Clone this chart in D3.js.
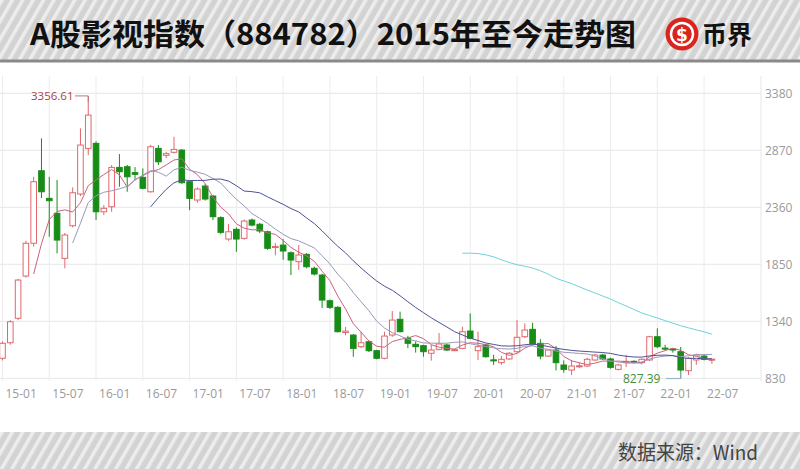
<!DOCTYPE html>
<html><head><meta charset="utf-8">
<script src="https://cdn.jsdelivr.net/npm/d3@7"></script>
<style>
body{margin:0;background:#fff;}
svg{display:block;}
</style></head><body>
<svg id="c" width="800" height="469"></svg>
<script>
// ---------- data (monthly, Jan 2015 - Aug 2022) ----------
const months = ["15-01","15-02","15-03","15-04","15-05","15-06","15-07","15-08","15-09","15-10","15-11","15-12",
"16-01","16-02","16-03","16-04","16-05","16-06","16-07","16-08","16-09","16-10","16-11","16-12",
"17-01","17-02","17-03","17-04","17-05","17-06","17-07","17-08","17-09","17-10","17-11","17-12",
"18-01","18-02","18-03","18-04","18-05","18-06","18-07","18-08","18-09","18-10","18-11","18-12",
"19-01","19-02","19-03","19-04","19-05","19-06","19-07","19-08","19-09","19-10","19-11","19-12",
"20-01","20-02","20-03","20-04","20-05","20-06","20-07","20-08","20-09","20-10","20-11","20-12",
"21-01","21-02","21-03","21-04","21-05","21-06","21-07","21-08","21-09","21-10","21-11","21-12",
"22-01","22-02","22-03","22-04","22-05","22-06","22-07","22-08"];
const opens = [1009,1148,1367,1745,2038,2687,2440,2306,1903,2195,2479,2887,
2932,2320,2365,2717,2723,2670,2628,2499,2887,2825,2852,2872,
2589,2425,2550,2461,2267,2076,2163,2082,2246,2208,2141,2000,
2022,1953,1873,1939,1814,1754,1524,1465,1240,1217,1113,1157,
1077,1009,1217,1358,1188,1134,1122,1054,1089,1128,1080,1098,
1253,1077,1128,995,970,1003,1068,1202,1268,1143,1029,1083,
949,904,935,940,994,1038,1003,910,975,982,970,994,
1202,1100,1092,1068,898,994,1029,1000];
const highs = [1160,1350,1720,2060,2633,2977,2633,2605,2130,2538,3066,3356.61,
2950,2380,2738,2836,2740,2720,2708,2917,2917,2857,2991,2880,
2600,2540,2570,2470,2280,2210,2180,2250,2260,2220,2150,2040,
2075,1965,2022,1950,1830,1765,1535,1475,1290,1225,1247,1170,
1085,1247,1432,1426,1210,1160,1130,1128,1235,1140,1095,1292,
1411,1247,1140,1040,1030,1065,1351,1322,1327,1180,1090,1120,
990,994,968,1015,1050,1050,1015,960,1040,990,1010,1210,
1277,1130,1100,1110,1020,1050,1040,1003];
const lows = [990,1130,1350,1730,2008,2443,2097,1948,1814,2180,2460,2827,
2246,2290,2320,2544,2499,2600,2520,2490,2738,2800,2840,2570,
2335,2400,2420,2246,2120,2060,1962,2070,2190,2130,1980,1930,
1890,1754,1800,1815,1750,1459,1450,1240,1215,1023,1100,1065,
1000,1000,1200,1240,1100,1060,1023,988,1080,1075,1075,1090,
1180,994,1015,950,950,995,1060,1190,1125,1000,1020,900,
880,860,920,930,985,995,915,900,930,970,955,985,
1100,1080,1060,827.39,860,950,990,960];
const closes = [1143,1336,1709,2038,2589,2499,2419,2067,2112,2490,2917,3185,
2320,2351,2717,2678,2633,2655,2530,2902,2767,2840,2878,2580,
2440,2523,2434,2276,2136,2141,2076,2237,2201,2148,1993,2010,
1969,1888,1933,1828,1763,1530,1465,1247,1252,1098,1148,1077,
1009,1208,1351,1247,1143,1113,1068,1083,1137,1083,1086,1247,
1188,1113,1023,988,1000,1054,1197,1262,1137,1029,1083,970,
910,940,942,1000,1038,1003,928,949,982,978,1000,1202,
1113,1095,1085,904,1009,1038,1000,1001];
const yTicks = [830,1340,1850,2360,2870,3380];
const xTickLabels = ["15-01","15-07","16-01","16-07","17-01","17-07","18-01","18-07","19-01","19-07","20-01","20-07","21-01","21-07","22-01","22-07"];
const maPeriods = [5,10,20,60];
const maColors = ["#c9637d","#9a98bb","#4d5298","#6fd3da"];
const highLabel = "3356.61", lowLabel = "827.39";

// ---------- drawing ----------
const svg = d3.select("#c");
const defs = svg.append("defs");
const pat = defs.append("pattern").attr("id","stripes").attr("patternUnits","userSpaceOnUse")
  .attr("width",9).attr("height",9).attr("patternTransform","rotate(30)");
pat.append("rect").attr("width",9).attr("height",9).attr("fill","#d3d3d3");
pat.append("rect").attr("width",3.5).attr("height",9).attr("fill","#ededed");

// header
svg.append("rect").attr("x",0).attr("y",0).attr("width",800).attr("height",61).attr("fill","url(#stripes)");
svg.append("rect").attr("x",0).attr("y",59.5).attr("width",800).attr("height",3).attr("fill","#8a8a8a");
svg.append("text").attr("x",30).attr("y",45)
  .attr("font-family","'Noto Sans CJK SC', sans-serif").attr("font-weight","bold")
  .attr("font-size",30).attr("fill","#111")
  .attr("textLength",606).attr("lengthAdjust","spacingAndGlyphs")
  .text("A股影视指数（884782）2015年至今走势图");
// logo
svg.append("circle").attr("cx",682).attr("cy",34).attr("r",16.5).attr("fill","#d9251d");
svg.append("circle").attr("cx",682).attr("cy",34).attr("r",11).attr("fill","none").attr("stroke","#fff").attr("stroke-width",2.5);
svg.append("text").attr("x",682).attr("y",41).attr("text-anchor","middle")
  .attr("font-family","'DejaVu Sans', sans-serif").attr("font-weight","bold").attr("font-size",17).attr("fill","#fff").text("$");
svg.append("text").attr("x",702).attr("y",44)
  .attr("font-family","'Noto Sans CJK SC', sans-serif").attr("font-weight","bold").attr("font-size",25).attr("fill","#111")
  .text("币界");

// footer
svg.append("rect").attr("x",0).attr("y",432).attr("width",800).attr("height",37).attr("fill","url(#stripes)");
svg.append("text").attr("x",618).attr("y",460)
  .attr("font-family","'Noto Sans CJK SC', sans-serif").attr("font-size",20).attr("fill","#444")
  .attr("textLength",140).attr("lengthAdjust","spacingAndGlyphs")
  .text("数据来源：Wind");

// scales
const x = d3.scaleLinear().domain([0,90]).range([2.5,704.1]);
const y = d3.scaleLinear().domain([830,3380]).range([378.3,93.3]);
const plotRight = 761, plotTop = 76, plotBottom = 381;

// grid
const g = svg.append("g");
g.selectAll("line.h").data(yTicks).join("line").attr("class","h")
  .attr("x1",0).attr("x2",plotRight).attr("y1",d=>y(d)).attr("y2",d=>y(d))
  .attr("stroke","#e6e6e6").attr("stroke-width",1);
const xTickIdx = xTickLabels.map(l=>months.indexOf(l));
g.selectAll("line.v").data(xTickIdx).join("line").attr("class","v")
  .attr("x1",d=>x(d)).attr("x2",d=>x(d)).attr("y1",plotTop).attr("y2",plotBottom)
  .attr("stroke","#ececec").attr("stroke-width",1);
g.append("line").attr("x1",plotRight).attr("x2",plotRight).attr("y1",plotTop).attr("y2",plotBottom)
  .attr("stroke","#e6e6e6");

// axis labels
g.selectAll("text.yl").data(yTicks).join("text").attr("class","yl")
  .attr("x",765).attr("y",d=>y(d)+4.5)
  .attr("font-family","'Open Sans', sans-serif").attr("font-size",12).attr("fill","#9a9a9a")
  .text(d=>d);
g.selectAll("text.xl").data(xTickLabels).join("text").attr("class","xl")
  .attr("x",(d,i)=>x(xTickIdx[i])+3).attr("y",398)
  .attr("font-family","'Open Sans', sans-serif").attr("font-size",12).attr("fill","#9a9a9a")
  .text(d=>d);

// candles
const upC = "#e0676c", dnC = "#178c17";
const data = months.map((m,i)=>({i, o:opens[i], h:highs[i], l:lows[i], c:closes[i]}));
const cg = svg.append("g");
cg.selectAll("line.w").data(data).join("line").attr("class","w")
  .attr("x1",d=>x(d.i)).attr("x2",d=>x(d.i)).attr("y1",d=>y(d.h)).attr("y2",d=>y(d.l))
  .attr("stroke",d=>d.c>=d.o?upC:dnC).attr("stroke-width",1);
const bw = 5.6;
cg.selectAll("rect.b").data(data).join("rect").attr("class","b")
  .attr("x",d=>x(d.i)-bw/2).attr("width",bw)
  .attr("y",d=>y(Math.max(d.o,d.c)))
  .attr("height",d=>Math.max(1,Math.abs(y(d.o)-y(d.c))))
  .attr("fill",d=>d.c>=d.o?"#fff":dnC)
  .attr("stroke",d=>d.c>=d.o?upC:dnC).attr("stroke-width",1);

// moving averages
maPeriods.forEach((n,k)=>{
  const pts = [];
  for(let i=n-1;i<closes.length;i++){
    pts.push([i, d3.mean(closes.slice(i-n+1,i+1))]);
  }
  svg.append("path").attr("d", d3.line().x(d=>x(d[0])).y(d=>y(d[1]))(pts))
    .attr("fill","none").attr("stroke",maColors[k]).attr("stroke-width",1);
});

// high / low annotations
const hi = highs.indexOf(d3.max(highs)), lo = lows.indexOf(d3.min(lows));
svg.append("path").attr("d",`M75,${y(highs[hi])}H${x(hi)}V${y(highs[hi])+6}`)
  .attr("fill","none").attr("stroke","#b77a7a").attr("stroke-width",1);
svg.append("text").attr("x",31).attr("y",y(highs[hi])+4.5)
  .attr("font-family","'Open Sans', sans-serif").attr("font-size",11.5).attr("fill","#a9443f")
  .text(highLabel);
svg.append("path").attr("d",`M666,${y(lows[lo])}H${x(lo)}V${y(lows[lo])-7}`)
  .attr("fill","none").attr("stroke","#8fb3c2").attr("stroke-width",1);
svg.append("text").attr("x",623).attr("y",y(lows[lo])+4.5)
  .attr("font-family","'Open Sans', sans-serif").attr("font-size",12).attr("fill","#3f8f3f")
  .text(lowLabel);
</script>
</body></html>
